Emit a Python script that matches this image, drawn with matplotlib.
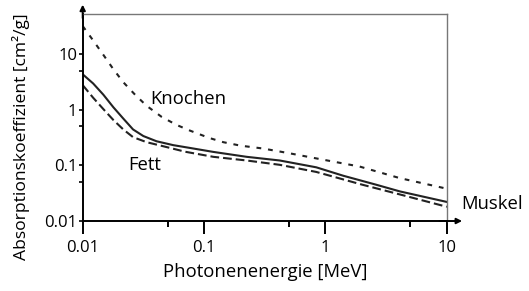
import matplotlib
matplotlib.use("Agg")
import matplotlib.pyplot as plt
from matplotlib.ticker import FixedLocator, NullFormatter

plt.rcParams['font.family'] = ['Open Sans', 'DejaVu Sans']

# Photonenenergie in MeV, Absorptionskoeffizient in cm^2/g
e_knochen = [0.01, 0.0122, 0.0148, 0.0179, 0.0216, 0.027, 0.0336, 0.0447, 0.0594, 0.0764,
             0.11, 0.144, 0.2, 0.306, 0.5, 0.84, 1.91, 4.08, 10.0]
mu_knochen = [31.6, 17.4, 9.6, 5.3, 3.1, 1.85, 1.17, 0.74, 0.53, 0.42,
              0.31, 0.26, 0.225, 0.2, 0.165, 0.133, 0.095, 0.059, 0.038]

e_muskel = [0.01, 0.0122, 0.0148, 0.0179, 0.0216, 0.026, 0.0316, 0.0406, 0.0557, 0.0764,
            0.119, 0.224, 0.42, 0.84, 1.4, 2.6, 4.1, 10.0]
mu_muskel = [4.3, 2.94, 1.85, 1.1, 0.69, 0.44, 0.335, 0.27, 0.23, 0.205,
             0.174, 0.142, 0.122, 0.092, 0.065, 0.045, 0.034, 0.022]

e_fett = [0.01, 0.0122, 0.0148, 0.0179, 0.0216, 0.026, 0.0336, 0.046, 0.07, 0.119,
          0.224, 0.42, 0.84, 2.0, 4.1, 10.0]
mu_fett = [2.75, 1.63, 1.02, 0.65, 0.44, 0.32, 0.26, 0.22, 0.175, 0.142,
           0.122, 0.102, 0.076, 0.045, 0.030, 0.018]

x_major = [0.01, 0.1, 1, 10]
x_minor = [0.05, 0.5, 5]
y_major = [0.01, 0.1, 1, 10]
y_minor = [0.05, 0.5, 5]
tick_labels = ["0.01", "0.1", "1", "10"]

fig = plt.figure(figsize=(5.29, 2.91), dpi=100)
ax = fig.add_axes([0.1563, 0.2405, 0.8447 - 0.1563, 0.952 - 0.2405])

ax.plot(e_knochen, mu_knochen, color='#222222', lw=1.5, dashes=(2.3, 3.3))
ax.plot(e_muskel, mu_muskel, color='#222222', lw=1.5)
ax.plot(e_fett, mu_fett, color='#222222', lw=1.5, dashes=(4.2, 1.9))

ax.set_xscale('log')
ax.set_yscale('log')
ax.set_xlim(0.01, 10)
ax.set_ylim(0.01, 52)

ax.xaxis.set_major_locator(FixedLocator(x_major))
ax.xaxis.set_minor_locator(FixedLocator(x_minor))
ax.yaxis.set_major_locator(FixedLocator(y_major))
ax.yaxis.set_minor_locator(FixedLocator(y_minor))
ax.set_xticklabels(tick_labels)
ax.set_yticklabels(tick_labels)
ax.xaxis.set_minor_formatter(NullFormatter())
ax.yaxis.set_minor_formatter(NullFormatter())

ax.tick_params(axis='x', which='major', length=9, width=1.4, pad=4.5, labelsize=12)
ax.tick_params(axis='x', which='minor', length=4, width=1.4)
ax.tick_params(axis='y', which='major', length=3, width=1.2, pad=1, labelsize=12)
ax.tick_params(axis='y', which='minor', length=3, width=1.2)

for s in ['top', 'right']:
    ax.spines[s].set_color('#777777')
    ax.spines[s].set_linewidth(1.0)
for s in ['left', 'bottom']:
    ax.spines[s].set_linewidth(1.4)

# arrow heads on the axes
ax.annotate('', xy=(0, 1.045), xytext=(0, 0.98), xycoords='axes fraction',
            arrowprops=dict(arrowstyle='-|>', lw=1.4, color='k', mutation_scale=8,
                            shrinkA=0, shrinkB=0))
ax.annotate('', xy=(1.042, 0), xytext=(0.98, 0), xycoords='axes fraction',
            arrowprops=dict(arrowstyle='-|>', lw=1.4, color='k', mutation_scale=8,
                            shrinkA=0, shrinkB=0))

ax.set_xlabel("Photonenenergie [MeV]", fontsize=13.3, labelpad=5)
ax.set_ylabel("Absorptionskoeffizient [cm²/g]", fontsize=12.6)
ax.yaxis.set_label_coords(-0.145, 0.405)

ax.text(0.0358, 1.26, "Knochen", fontsize=13.3, va='baseline')
ax.text(0.0238, 0.0824, "Fett", fontsize=13.3, va='baseline')
ax.text(1.039, 0.0565, "Muskel", fontsize=13.3, va='baseline', transform=ax.transAxes)

fig.savefig("out.png", dpi=100)
